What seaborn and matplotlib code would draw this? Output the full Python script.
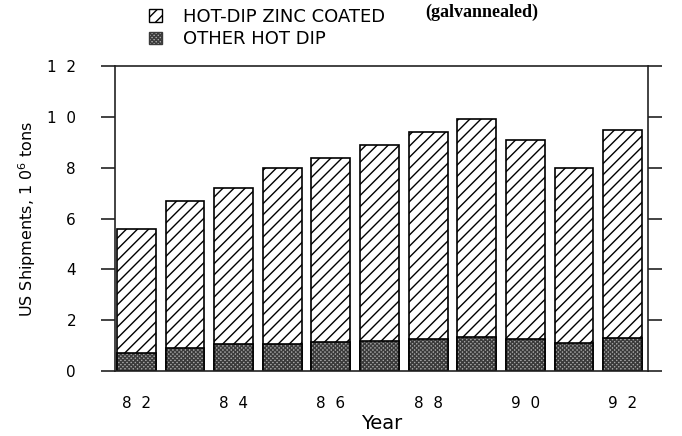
import matplotlib
matplotlib.use("Agg")
import matplotlib.pyplot as plt
import seaborn as sns
import pandas as pd
from matplotlib.patches import Patch

years = [82, 83, 84, 85, 86, 87, 88, 89, 90, 91, 92]
total = [5.6, 6.7, 7.2, 8.0, 8.4, 8.9, 9.4, 9.9, 9.1, 8.0, 9.5]
other = [0.7, 0.9, 1.05, 1.05, 1.15, 1.2, 1.25, 1.35, 1.25, 1.1, 1.3]
year_ticks = ["8  2", "8  4", "8  6", "8  8", "9  0", "9  2"]
y_ticks = [0, 2, 4, 6, 8, 10, 12]
y_labels = ["0", "2", "4", "6", "8", "1  0", "1  2"]

df = pd.DataFrame({"year": years, "total": total, "other": other})

sns.set_style("white")
plt.rcParams["font.family"] = ["DejaVu Sans"]
plt.rcParams["hatch.linewidth"] = 1.0
plt.rcParams["text.color"] = "black"
plt.rcParams["axes.labelcolor"] = "black"
plt.rcParams["xtick.color"] = "black"
plt.rcParams["ytick.color"] = "black"

fig = plt.figure(figsize=(6.82, 4.36), dpi=100)
ax = fig.add_axes([0.1686, 0.149, 0.7814, 0.6996])

# hot-dip zinc coated (full bar, hatched)
sns.barplot(data=df, x="year", y="total", color="white", edgecolor="black",
            linewidth=1.2, hatch="///", width=0.8, ax=ax, saturation=1)
# other hot dip: stipple layer, then outline
sns.barplot(data=df, x="year", y="other", color="#a4a4a4", edgecolor="#3a3a3a",
            linewidth=0, hatch="xxxxxxxx", width=0.8, ax=ax, saturation=1)
sns.barplot(data=df, x="year", y="other", fill=False, edgecolor="black",
            linewidth=1.2, width=0.8, ax=ax)

ax.set_xlim(-0.44, 10.52)
ax.set_ylim(0, 12)
ax.set_yticks(y_ticks)
ax.set_yticklabels(y_labels)
ax.set_xticks(range(0, 11, 2))
ax.set_xticklabels(year_ticks)

for s in ax.spines.values():
    s.set_visible(True)
    s.set_color("#222222")
    s.set_linewidth(1.2)

ax.tick_params(axis="y", direction="out", length=10, width=1.2, color="#222222",
               left=True, right=True, labelright=False, pad=18, labelsize=11)
ax.tick_params(axis="x", length=0, pad=18, labelsize=11)

ax.set_xlabel("Year", fontsize=14)
ax.xaxis.set_label_coords(0.5, -0.14)
ax.set_ylabel("US Shipments, 1 0$^{\\mathregular{6}}$ tons", fontsize=11.5)
ax.yaxis.set_label_coords(-0.145, 0.5)

handles = [Patch(facecolor="white", edgecolor="black", hatch="///", linewidth=1.0),
           Patch(facecolor="#a4a4a4", edgecolor="#3a3a3a", hatch="xxxxxxxx", linewidth=1.0)]
fig.legend(handles, ["HOT-DIP ZINC COATED", "OTHER HOT DIP"], loc="upper left",
           bbox_to_anchor=(0.219, 0.982), frameon=False, fontsize=13,
           handlelength=0.7, handleheight=0.7, handletextpad=1.15,
           labelspacing=0.25, borderpad=0, borderaxespad=0)
fig.text(0.623, 0.972, "(galvannealed)", family="Liberation Serif",
         fontweight="bold", fontsize=13, va="center", ha="left")

fig.savefig("out.png", dpi=100, facecolor="white")
